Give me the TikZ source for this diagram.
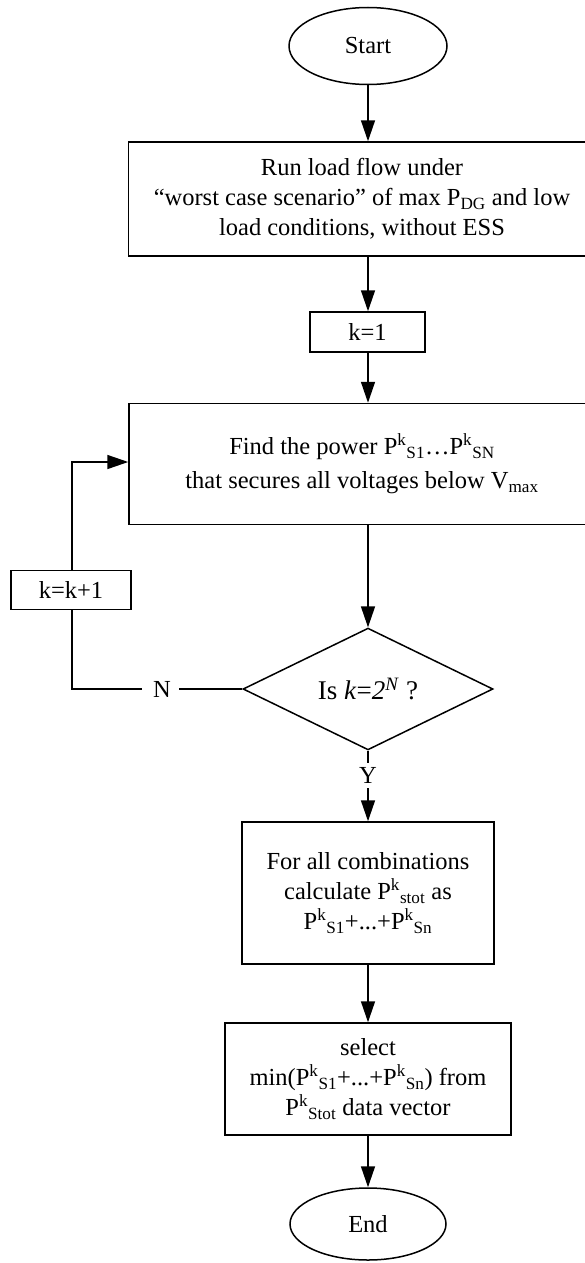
\documentclass[tikz,border=0pt]{standalone}
\usepackage{fontspec}
\setmainfont{Liberation Serif}
\usetikzlibrary{shapes.geometric,arrows.meta}

\newcommand{\Pks}[1]{P\textsuperscript{k}\textsubscript{#1}}

\tikzset{
  base/.style={draw=black, line width=1.5pt, inner sep=0pt, align=center,
               font=\fontsize{24.5}{30}\selectfont},
  terminal/.style={base, ellipse},
  procbox/.style={base, rectangle},
  decision/.style={base, diamond},
  flow/.style={line width=1.5pt, -{Triangle[length=21pt,width=14pt]}},
  link/.style={line width=1.5pt},
  lbl/.style={inner sep=0pt, font=\fontsize{24.5}{30}\selectfont}
}

\begin{document}
\begin{tikzpicture}[x=1pt,y=-1pt]
\useasboundingbox (0,0) rectangle (585,1263);

% terminals
\node[terminal, minimum width=158, minimum height=77] (start) at (368,46) {Start};
\node[terminal, minimum width=156, minimum height=72] (end) at (368,1224) {End};

% process boxes
\node[procbox, minimum width=467, minimum height=114] (run) at (362,199)
  {Run load flow under\\
   “worst case scenario” of max P\textsubscript{DG} and low\\
   load conditions, without ESS};
\node[procbox, minimum width=115, minimum height=40] (k1) at (367.5,332) {k=1};
\node[procbox, minimum width=466, minimum height=121] (find) at (362,464)
  {Find the power \Pks{S1}…\Pks{SN}\\[4pt]
   that secures all voltages below V\textsubscript{max}};
\node[procbox, minimum width=120, minimum height=39] (kk) at (71,590) {k=k+1};
\node[procbox, minimum width=252, minimum height=142] (comb) at (368,893)
  {For all combinations\\
   calculate \Pks{stot} as\\
   \Pks{S1}+...+\Pks{Sn}};
\node[procbox, minimum width=286, minimum height=112] (sel) at (368,1079)
  {select\\
   min(\Pks{S1}+...+\Pks{Sn}) from\\
   \Pks{Stot} data vector};

% decision
\node[decision, minimum width=250, minimum height=106] (dec) at (368,689)
  {\fontsize{27}{30}\selectfont Is \textit{k}=\textit{2}\textsuperscript{\textit{N}} ?};

% branch labels
\node[lbl] (no) at (162,689) {N};
\node[lbl] (yes) at (368,775) {Y};

% helper points on the loop-back path
\coordinate (loopdn) at (72,689);
\coordinate (loopup) at (72,462);

% main flow
\draw[flow] (start.south) -- (start.south |- run.north);
\draw[flow] (start.south |- run.south) -- (start.south |- k1.north);
\draw[flow] (start.south |- k1.south) -- (start.south |- find.north);
\draw[flow] (dec.north |- find.south) -- (dec.north);
\draw[link] (dec.south) -- ([yshift=4pt]yes.north);
\draw[flow] ([yshift=-5pt]yes.south) -- (comb.north);
\draw[flow] (comb.south) -- (sel.north);
\draw[flow] (sel.south) -- (end.north);

% loop back on N
\draw[link] (dec.west) -- ([xshift=8pt]no.east);
\draw[link] ([xshift=-11pt]no.west) -- (loopdn) -- (kk.south -| loopdn);
\draw[flow] (kk.north -| loopup) -- (loopup) -- (find.west |- loopup);
\end{tikzpicture}
\end{document}
